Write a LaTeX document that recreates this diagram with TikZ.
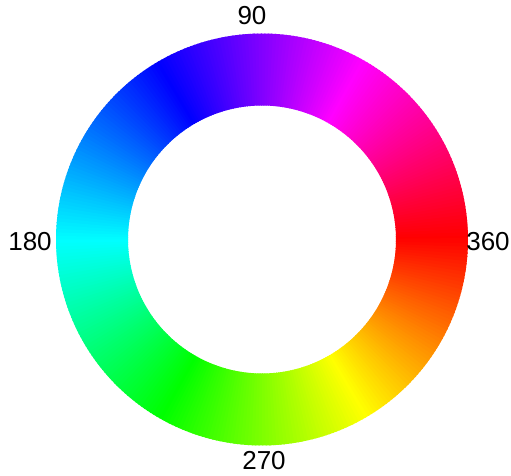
\documentclass[tikz,border=0pt]{standalone}
\usepackage{fontspec}
\setmainfont{Liberation Sans}
\begin{document}
\begin{tikzpicture}[x=1pt,y=1pt,
  lbl/.style={font=\fontsize{26}{26}\selectfont, inner sep=0pt, text=black}]
\useasboundingbox[fill=white] (0,0) rectangle (511,476);
\coordinate (c) at (262,236.5);
\foreach \a in {0,...,359}{
  \pgfmathtruncatemacro{\h}{mod(360-\a,360)}
  \definecolor{hc}{Hsb}{\h,1,1}
  \fill[hc, shift={(c)}] (\a:134) arc[start angle=\a, end angle=\a+1.4, radius=134]
    -- (\a+1.4:206) arc[start angle=\a+1.4, end angle=\a, radius=206] -- cycle;
}
\node[lbl] (l90) at (252,460) {90};
\node[lbl] (l180) at (30,234) {180};
\node[lbl] (l360) at (488,234) {360};
\node[lbl] (l270) at (264,15) {270};
\end{tikzpicture}
\end{document}
